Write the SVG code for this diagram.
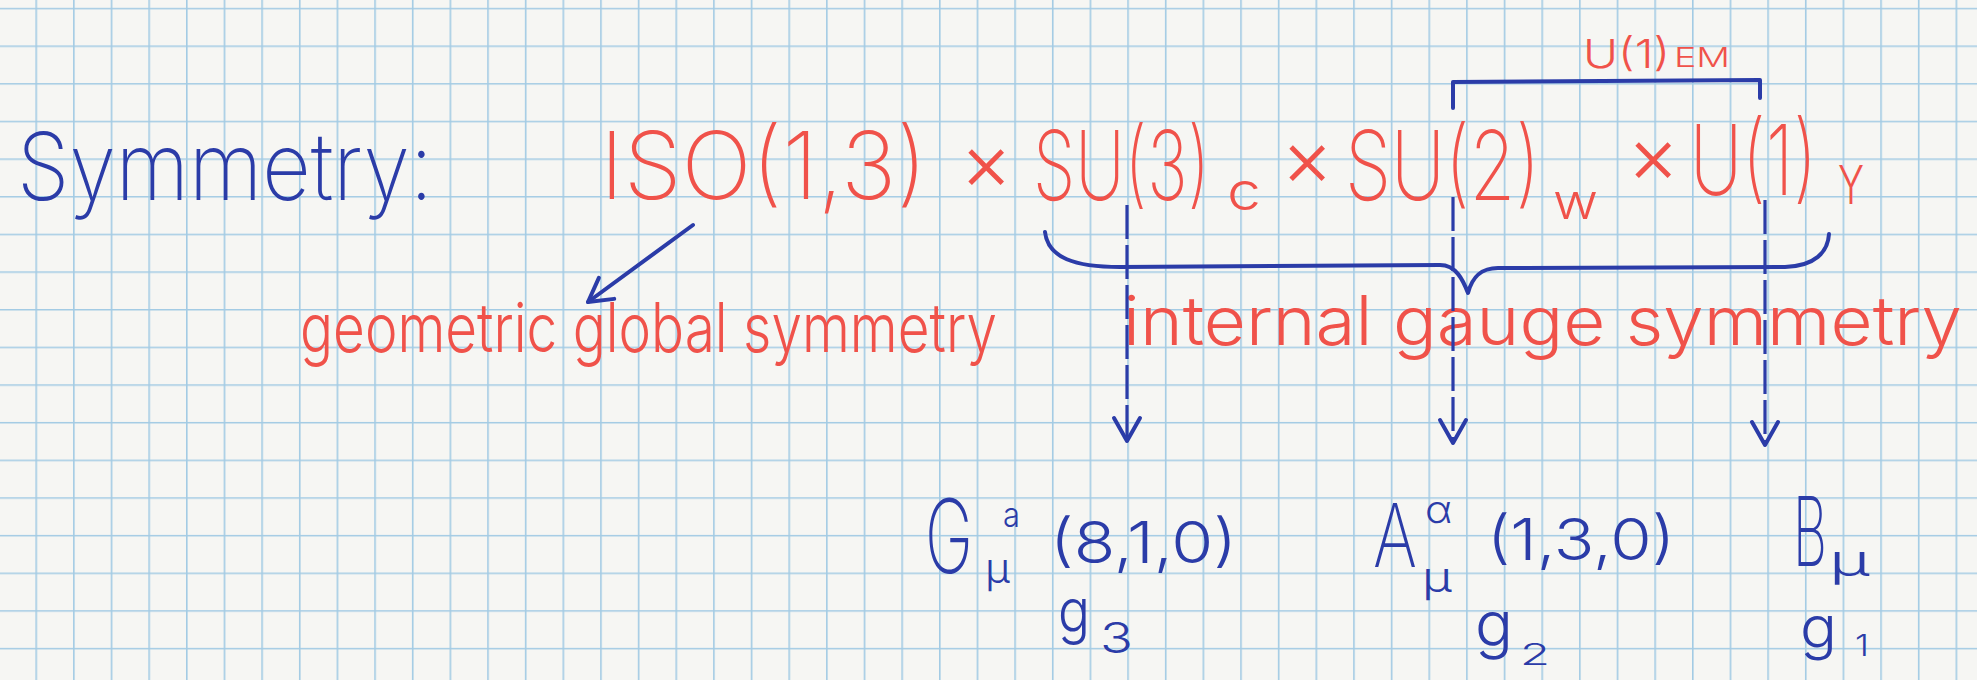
<svg xmlns="http://www.w3.org/2000/svg" width="1977" height="680" viewBox="0 0 1977 680">
<defs>
<pattern id="grid" patternUnits="userSpaceOnUse" x="35.4" y="7.8" width="37.65" height="37.65">
<path d="M0,0.8 H37.65 M0.8,0 V37.65" stroke="#a3cbe4" stroke-width="1.6" fill="none"/>
</pattern>
<marker id="ah" markerUnits="userSpaceOnUse" viewBox="-24 -16 28 32" markerWidth="28" markerHeight="32" refX="0" refY="0" orient="auto" overflow="visible">
<path d="M-23,-13 L0,0 L-23,13" fill="none" stroke="#2b3ca8" stroke-width="4" stroke-linecap="round" stroke-linejoin="round"/>
</marker>
<style>
text{font-family:"Inter","Liberation Sans",sans-serif;font-weight:300;}
.big{font-weight:250;}
.b{fill:#2b3ca8;}
.r{fill:#f0524a;}
.ln{fill:none;stroke:#2b3ca8;stroke-width:4;stroke-linecap:round;stroke-linejoin:round;}
.dash{fill:none;stroke:#2b3ca8;stroke-width:3.2;stroke-dasharray:34 6;}
</style>
</defs>
<rect width="1977" height="680" fill="#f6f6f3"/>
<rect width="1977" height="680" fill="url(#grid)"/>

<g id="title">
<text class="b big" x="17" y="200" font-size="94" textLength="416" lengthAdjust="spacingAndGlyphs">Symmetry:</text>
</g>

<g id="group-formula">
<text class="r big" x="600" y="199" font-size="94" textLength="327" lengthAdjust="spacingAndGlyphs">ISO(1,3)</text>
<text class="r" x="960" y="190" font-size="80">×</text>
<text class="r big" x="1033" y="137.9" font-size="66" transform="scale(1,1.45)" textLength="177" lengthAdjust="spacingAndGlyphs">SU(3)</text>
<text class="r" x="1227" y="210" font-size="52" textLength="34" lengthAdjust="spacingAndGlyphs">c</text>
<text class="r" x="1281" y="186" font-size="80">×</text>
<text class="r big" x="1345" y="153.8" font-size="74" transform="scale(1,1.3)" textLength="195" lengthAdjust="spacingAndGlyphs">SU(2)</text>
<text class="r" x="1553" y="219" font-size="50" textLength="45" lengthAdjust="spacingAndGlyphs">w</text>
<text class="r" x="1627" y="183" font-size="80">×</text>
<text class="r big" x="1690" y="139.3" font-size="70" transform="scale(1,1.4)" textLength="127" lengthAdjust="spacingAndGlyphs">U(1)</text>
<text class="r" x="1838" y="204" font-size="54" textLength="26" lengthAdjust="spacingAndGlyphs">Y</text>
</g>

<g id="u1em">
<text class="r" x="1583" y="68" font-size="40" textLength="87" lengthAdjust="spacingAndGlyphs">U(1)</text>
<text class="r" x="1674" y="67" font-size="27" textLength="56" lengthAdjust="spacingAndGlyphs">EM</text>
</g>

<g id="geometric">
<text class="r" x="300" y="352" font-size="68" textLength="697" lengthAdjust="spacingAndGlyphs">geometric global symmetry</text>
</g>

<g id="internal">
<text class="r" x="1123" y="345" font-size="68" textLength="839" lengthAdjust="spacingAndGlyphs">internal gauge symmetry</text>
</g>

<g id="gluon">
<text class="b big" x="925" y="358.1" font-size="64" transform="scale(1,1.6)" textLength="48" lengthAdjust="spacingAndGlyphs">G</text>
<text class="b" x="1003" y="527" font-size="34" textLength="17" lengthAdjust="spacingAndGlyphs">a</text>
<text class="b" x="985" y="583" font-size="42" textLength="25" lengthAdjust="spacingAndGlyphs">μ</text>
<text class="b" x="1050" y="563" font-size="58" textLength="187" lengthAdjust="spacingAndGlyphs">(8,1,0)</text>
<text class="b" x="1058" y="632" font-size="60" textLength="32" lengthAdjust="spacingAndGlyphs">g</text>
<text class="b" x="1100" y="653" font-size="42" textLength="33" lengthAdjust="spacingAndGlyphs">3</text>
</g>

<g id="weak">
<text class="b big" x="1373" y="410.9" font-size="64" transform="scale(1,1.38)" textLength="44" lengthAdjust="spacingAndGlyphs">A</text>
<text class="b" x="1425" y="523" font-size="38" textLength="27" lengthAdjust="spacingAndGlyphs">α</text>
<text class="b" x="1422" y="592" font-size="42" textLength="30" lengthAdjust="spacingAndGlyphs">μ</text>
<text class="b" x="1487" y="560" font-size="58" textLength="188" lengthAdjust="spacingAndGlyphs">(1,3,0)</text>
<text class="b" x="1475" y="646" font-size="62" textLength="38" lengthAdjust="spacingAndGlyphs">g</text>
<text class="b" x="1520" y="665" font-size="30" textLength="30" lengthAdjust="spacingAndGlyphs">2</text>
</g>

<g id="hypercharge">
<text class="b big" x="1793" y="307.6" font-size="52" transform="scale(1,1.84)" textLength="34" lengthAdjust="spacingAndGlyphs">B</text>
<text class="b" x="1829" y="576" font-size="44" textLength="41" lengthAdjust="spacingAndGlyphs">μ</text>
<text class="b" x="1800" y="648" font-size="58" textLength="37" lengthAdjust="spacingAndGlyphs">g</text>
<text class="b" x="1855" y="656" font-size="30" textLength="14" lengthAdjust="spacingAndGlyphs">1</text>
</g>

<g id="connectors">
<path class="ln" d="M693,225 L588,302" marker-end="url(#ah)"/>
<path class="ln" d="M1453,108 L1453,82 L1760,80 L1760,98"/>
<path class="ln" d="M1045,232 C1048,258 1075,267 1120,267 L1440,265 C1456,265 1463,280 1468,293 C1472,278 1480,268 1498,268 L1785,267 C1815,266 1828,252 1829,234"/>
<path class="dash" d="M1127,205 V441" marker-end="url(#ah)"/>
<path class="dash" d="M1453,197 V443" marker-end="url(#ah)"/>
<path class="dash" d="M1765,200 V445" marker-end="url(#ah)"/>
</g>
</svg>
